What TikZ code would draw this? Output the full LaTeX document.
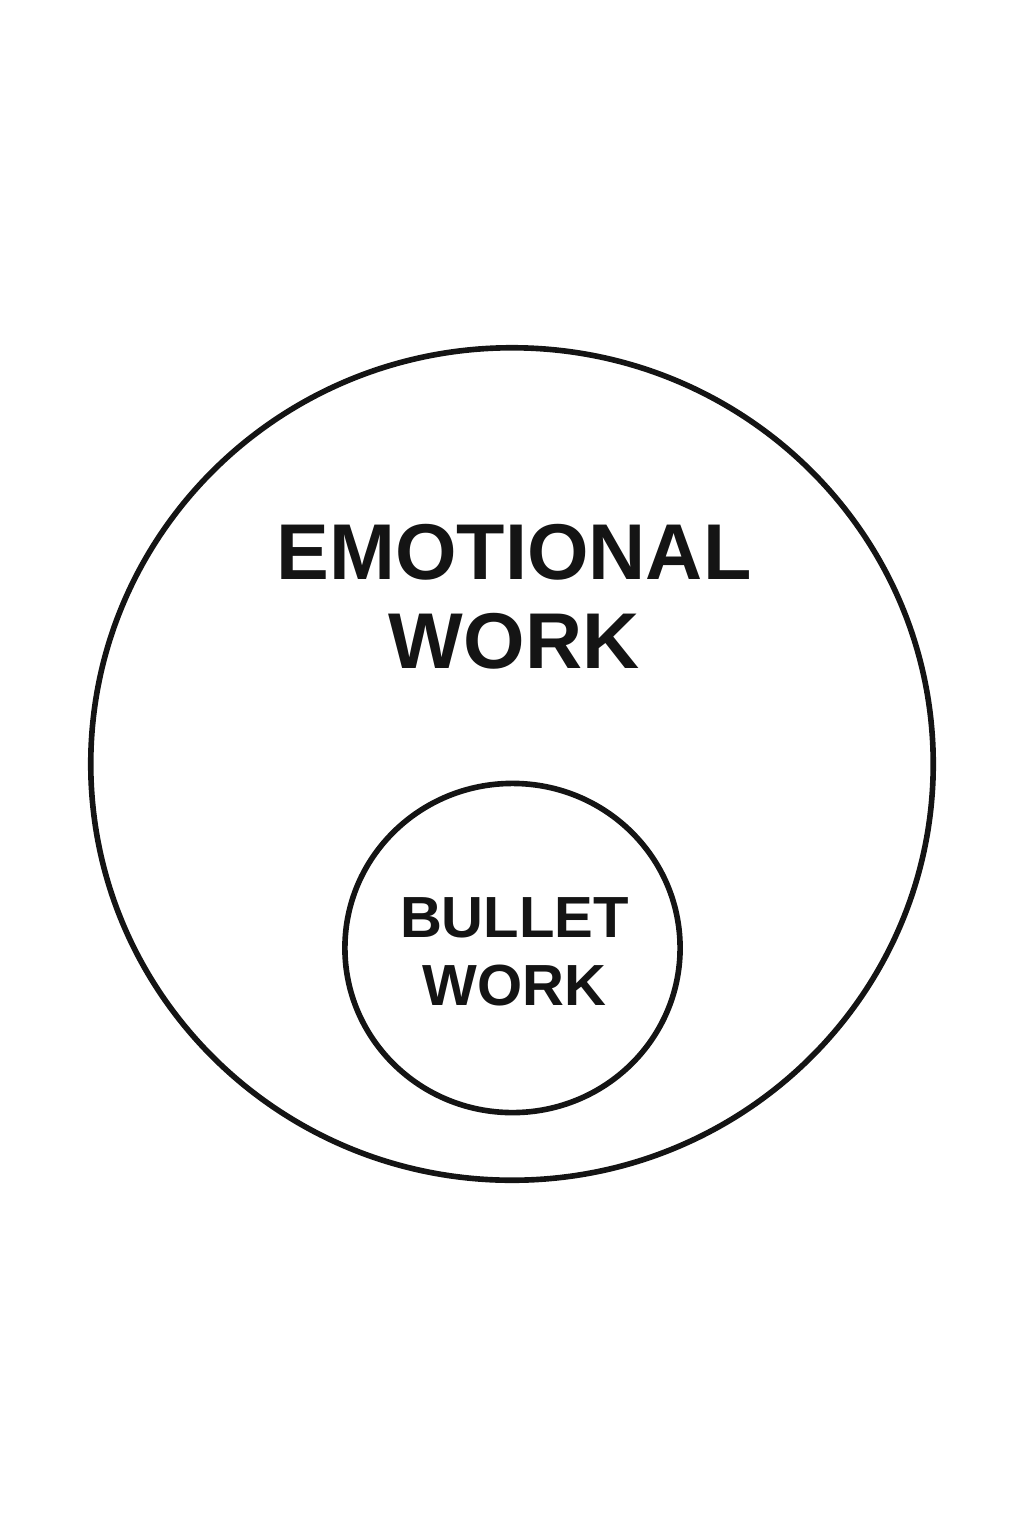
\documentclass[tikz,border=0pt]{standalone}
\usepackage{fontspec}
\setmainfont{Liberation Sans}
\usepackage{tikz}
\usetikzlibrary{shapes.geometric}

\begin{document}
\begin{tikzpicture}[x=0.01cm, y=-0.01cm,
    ring/.style={draw, ellipse, inner sep=0pt, black!92, line width=1.6pt},
    big/.style={ring, minimum width=8.42cm, minimum height=8.32cm},
    small/.style={ring, minimum width=3.35cm, minimum height=3.29cm},
    label/.style={align=center, inner sep=0pt, text=black!92}]

    \useasboundingbox (0, 0) rectangle (1024, 1536);

    \node[big] (a) at (512, 764) {};
    \node[small] (b) at (512.5, 948) {};
    \node[label, font=\fontsize{22.5pt}{25.3pt}\selectfont\bfseries] (c) at (514, 596.5) {EMOTIONAL\\WORK};
    \node[label, font=\fontsize{16.5pt}{19.35pt}\selectfont\bfseries] (d) at (514.5, 952) {BULLET\\WORK};

\end{tikzpicture}
\end{document}
